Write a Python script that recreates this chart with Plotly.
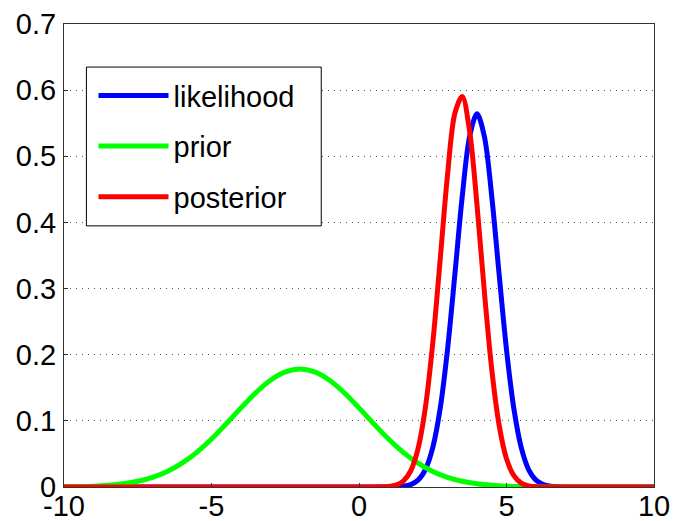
import plotly.graph_objects as go

# ---- data ----
prior_x = [-10, -9.5, -9, -8.5, -8, -7.5, -7, -6.5, -6, -5.5, -5, -4.5, -4, -3.5, -3, -2.5, -2,
           -1.5, -1, -0.5, 0, 0.5, 1, 1.5, 2, 2.5, 3, 3.5, 4, 4.5, 5, 5.5, 6, 6.5, 7, 7.5, 8,
           8.5, 9, 9.5, 10]
prior_y = [0.0003, 0.0006, 0.0013, 0.0026, 0.0049, 0.0087, 0.0146, 0.0235, 0.0360, 0.0524,
           0.0725, 0.0955, 0.1196, 0.1425, 0.1614, 0.1740, 0.1784, 0.1740, 0.1614, 0.1425,
           0.1196, 0.0955, 0.0725, 0.0524, 0.0360, 0.0235, 0.0146, 0.0087, 0.0049, 0.0026,
           0.0013, 0.0006, 0.0003, 0.0001, 0.0001, 0.0, 0.0, 0.0, 0.0, 0.0, 0.0]

narrow_x = [-10, 0, 0.25, 0.5, 0.75, 1.0, 1.25, 1.5, 1.75, 2.0, 2.25, 2.5, 2.75, 3.0, 3.25,
            3.5, 3.75, 4.0, 4.25, 4.5, 4.75, 5.0, 5.25, 5.5, 5.75, 6.0, 6.25, 6.5, 6.75, 7.0,
            7.25, 7.5, 10]
likelihood_y = [0.0, 0.0, 0.0, 0.0, 0.0, 0.0001, 0.0003, 0.0011, 0.0036, 0.0103, 0.0264,
                0.0595, 0.1183, 0.2076, 0.3215, 0.4394, 0.5300, 0.5642, 0.5300, 0.4394,
                0.3215, 0.2076, 0.1183, 0.0595, 0.0264, 0.0103, 0.0036, 0.0011, 0.0003,
                0.0001, 0.0, 0.0, 0.0]
posterior_y = [0.0, 0.0, 0.0, 0.0, 0.0002, 0.0008, 0.0028, 0.0089, 0.0242, 0.0577, 0.1199,
               0.2172, 0.3428, 0.4715, 0.5651, 0.5904, 0.5375, 0.4266, 0.2950, 0.1778,
               0.0934, 0.0428, 0.0171, 0.0059, 0.0018, 0.0005, 0.0001, 0.0, 0.0, 0.0, 0.0,
               0.0, 0.0]

series_names = ["likelihood", "prior", "posterior"]
series_colors = ["#0000ff", "#00ff00", "#ff0000"]

x_tickvals = [-10, -5, 0, 5, 10]
x_ticktext = ["-10", "-5", "0", "5", "10"]
y_tickvals = [0, 0.1, 0.2, 0.3, 0.4, 0.5, 0.6, 0.7]
y_ticktext = ["0", "0.1", "0.2", "0.3", "0.4", "0.5", "0.6", "0.7"]

fig = go.Figure()
for name, color, xs, ys in zip(series_names, series_colors,
                               [narrow_x, prior_x, narrow_x],
                               [likelihood_y, prior_y, posterior_y]):
    fig.add_trace(go.Scatter(x=xs, y=ys, mode="lines", name=name, legendgroup=name,
                             line=dict(color=color, width=5, shape="spline", smoothing=0.9)))

# legend frame (white box with black border, drawn over grid and curves)
fig.add_shape(type="rect", xref="paper", yref="paper",
              x0=0.038, x1=0.436, y0=0.564, y1=0.907,
              fillcolor="white", line=dict(color="black", width=1), layer="above")

font_family = "Liberation Sans, Arial, sans-serif"
fig.update_layout(
    width=673, height=521,
    margin=dict(l=64, r=19, t=24, b=34),
    paper_bgcolor="white", plot_bgcolor="white",
    font=dict(family=font_family, size=29, color="black"),
    showlegend=True,
    legend=dict(x=0.05, y=0.9005, xanchor="left", yanchor="top",
                bgcolor="rgba(0,0,0,0)", borderwidth=0,
                font=dict(size=29), itemwidth=70, tracegroupgap=10),
    xaxis=dict(range=[-10, 10], tickvals=x_tickvals, ticktext=x_ticktext,
               showgrid=False, zeroline=False, automargin=False,
               showline=True, linecolor="#333333", linewidth=1, mirror=True,
               ticks="inside", ticklen=4, tickcolor="#333333", ticklabelstandoff=-7),
    yaxis=dict(range=[0, 0.7], tickvals=y_tickvals, ticktext=y_ticktext,
               showgrid=True, gridcolor="#555555", gridwidth=1, griddash="1px,5px",
               zeroline=False, automargin=False,
               showline=True, linecolor="#333333", linewidth=1, mirror=True,
               ticks="inside", ticklen=4, tickcolor="#333333", ticklabelstandoff=1),
)

fig.write_html("out.html", config={"displayModeBar": False},
               post_script="document.body.style.margin='0px';document.body.style.overflow='hidden';")
